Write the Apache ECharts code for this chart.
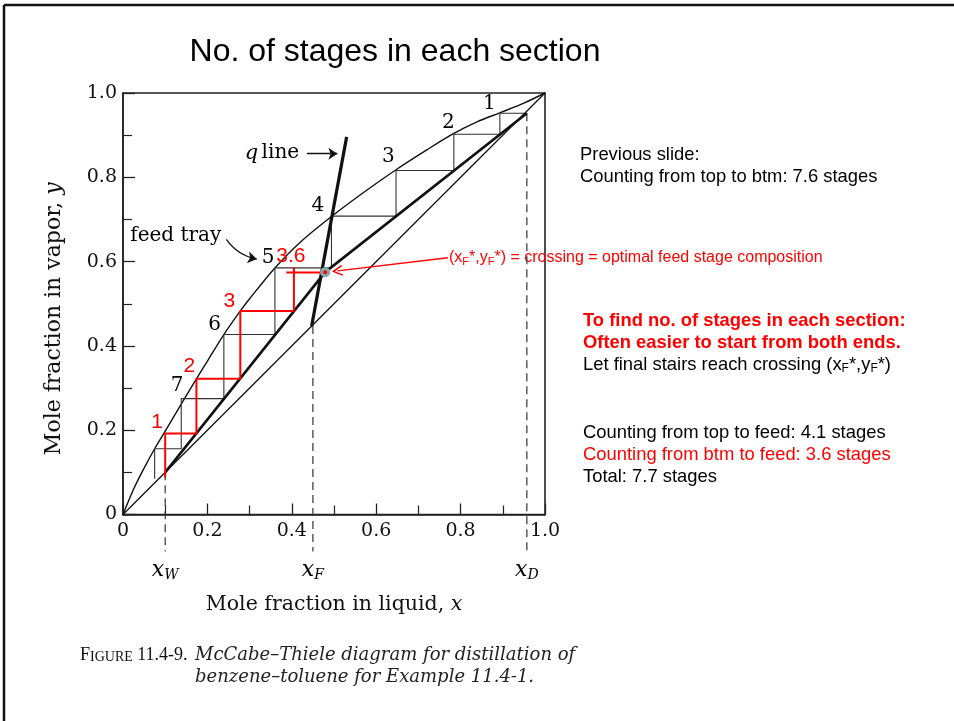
<!DOCTYPE html>
<html><head><meta charset="utf-8">
<script src="https://cdn.jsdelivr.net/npm/echarts@6/dist/echarts.min.js"></script>
<style>html,body{margin:0;padding:0;background:#fff;}#chart{width:954px;height:721px;}</style>
</head><body><div id="chart"></div>
<script>
// ---------- data ----------
const xTickLabels = ['0', '0.2', '0.4', '0.6', '0.8', '1.0'];
const yTickLabels = ['0', '0.2', '0.4', '0.6', '0.8', '1.0'];

// equilibrium curve
const eqX = [0, 0.025, 0.05, 0.075, 0.1, 0.138, 0.174, 0.2, 0.239, 0.278, 0.3, 0.36, 0.42, 0.494, 0.57, 0.647, 0.72, 0.784, 0.84, 0.893, 0.95, 1.0];
const eqY = [0, 0.06, 0.110, 0.156, 0.198, 0.262, 0.322, 0.364, 0.427, 0.483, 0.512, 0.585, 0.646, 0.707, 0.764, 0.818, 0.865, 0.904, 0.932, 0.953, 0.976, 1.0];

// 45-degree line
const diagX = [0, 1];
const diagY = [0, 1];

// operating lines (xD -> crossing -> xW)
const opX = [0.957, 0.479, 0.1];
const opY = [0.952, 0.575, 0.1];

// q line
const qX = [0.447, 0.530];
const qY = [0.447, 0.896];

// black stairs (counting from top)
const stairX = [0.957, 0.893, 0.893, 0.784, 0.784, 0.647, 0.647, 0.494, 0.494, 0.36, 0.36, 0.239, 0.239, 0.138, 0.138, 0.075, 0.075];
const stairY = [0.952, 0.952, 0.902, 0.902, 0.816, 0.816, 0.708, 0.708, 0.585, 0.585, 0.427, 0.427, 0.275, 0.275, 0.156, 0.156, 0.085];

// red stairs (counting from bottom)
const redStairX = [0.1, 0.1, 0.174, 0.174, 0.278, 0.278, 0.405, 0.405];
const redStairY = [0.088, 0.192, 0.192, 0.322, 0.322, 0.483, 0.483, 0.587];
const redBarX = [0.387, 0.476];
const redBarY = [0.574, 0.574];

// crossing point (xF*, yF*)
const crossX = [0.479];
const crossY = [0.575];

// compositions marked with dashed lines
const compNames = ['W', 'F', 'D'];
const compX = [0.1, 0.45, 0.957];
const compTopY = [0.1, 0.447, 0.952];
const compBottomY = [-0.088, -0.088, -0.088];

// stage numbers of the book figure
const stageText = ['1', '2', '3', '4', '5', '6', '7'];
const stageX = [0.868, 0.771, 0.629, 0.462, 0.344, 0.217, 0.128];
const stageY = [0.974, 0.930, 0.848, 0.732, 0.610, 0.450, 0.305];

// red stage counts
const redText = ['1', '2', '3', '3.6'];
const redX = [0.081, 0.157, 0.252, 0.398];
const redY = [0.220, 0.352, 0.505, 0.612];

// ---------- chart ----------
const zip = (a, b) => a.map((v, i) => [v, b[i]]);
const serif = 'DejaVu Serif';
const sans = 'Liberation Sans';
const ink = '#111';

const chart = echarts.init(document.getElementById('chart'), null, {renderer: 'canvas'});

const labelSeries = (data, label) => ({type: 'scatter', clip: false, silent: true, z: 9, symbol: 'circle', symbolSize: 0,
  itemStyle: {color: ink, opacity: 1}, data: data,
  label: Object.assign({show: true, position: 'inside', textBorderWidth: 0, opacity: 1}, label)});

const series = [];
series.push({type: 'line', data: zip(diagX, diagY), showSymbol: false, symbol: 'none', lineStyle: {color: ink, width: 1.3}, silent: true, z: 2});
series.push({type: 'line', data: zip(eqX, eqY), smooth: 0.3, showSymbol: false, symbol: 'none', lineStyle: {color: ink, width: 1.4}, silent: true, z: 2});
series.push({type: 'line', data: zip(stairX, stairY), showSymbol: false, symbol: 'none', lineStyle: {color: '#333', width: 1.1}, silent: true, z: 3});
series.push({type: 'line', data: zip(opX, opY), showSymbol: false, symbol: 'none', lineStyle: {color: ink, width: 2.6}, silent: true, z: 4});
series.push({type: 'line', data: zip(qX, qY), showSymbol: false, symbol: 'none', lineStyle: {color: ink, width: 3.2}, silent: true, z: 4});
compX.forEach((x, i) => {
  series.push({type: 'line', clip: false, data: [[x, compTopY[i]], [x, compBottomY[i]]], showSymbol: false, symbol: 'none',
    lineStyle: {color: '#333', width: 1.2, type: [8, 5]}, silent: true, z: 2});
});
series.push({type: 'line', data: zip(redStairX, redStairY), showSymbol: false, symbol: 'none', lineStyle: {color: '#ff0000', width: 2}, silent: true, z: 6});
series.push({type: 'line', data: zip(redBarX, redBarY), showSymbol: false, symbol: 'none', lineStyle: {color: '#ff0000', width: 2}, silent: true, z: 6});
series.push({type: 'scatter', data: zip(crossX, crossY), symbol: 'circle', symbolSize: 10, itemStyle: {color: '#86a9ad', opacity: 1}, silent: true, z: 7});
series.push({type: 'scatter', data: zip(crossX, crossY), symbol: 'circle', symbolSize: 4, itemStyle: {color: '#ff0000', opacity: 1}, silent: true, z: 8});

// stage number labels
series.push(labelSeries(stageText.map((t, i) => [stageX[i], stageY[i], t]),
  {formatter: p => p.data[2], fontFamily: serif, fontSize: 20, color: '#000'}));
series.push(labelSeries(redText.map((t, i) => [redX[i], redY[i], t]),
  {formatter: p => p.data[2], fontFamily: sans, fontSize: 21, color: '#ff0000'}));
// composition labels x_W, x_F, x_D
series.push(labelSeries(compNames.map((n, i) => [compX[i], -0.132, n]),
  {formatter: p => '{x|x}{s|' + p.data[2] + '}',
   rich: {x: {fontFamily: serif, fontStyle: 'italic', fontSize: 22, color: '#000', lineHeight: 24},
          s: {fontFamily: serif, fontStyle: 'italic', fontSize: 14, color: '#000', verticalAlign: 'bottom', lineHeight: 14}}}));
// q line and feed tray text
series.push(labelSeries([[0.353, 0.857, '{i|q} {n|line}'], [0.125, 0.661, '{n|feed tray}']],
  {formatter: p => p.data[2],
   rich: {i: {fontFamily: serif, fontStyle: 'italic', fontSize: 21, color: '#000'}, n: {fontFamily: serif, fontSize: 20, color: '#000'}}}));
// arrows
series.push({type: 'lines', coordinateSystem: 'cartesian2d', silent: true, z: 9, symbol: ['none', 'arrow'], symbolSize: 9,
  lineStyle: {color: ink, width: 1.3, curveness: 0, opacity: 1},
  data: [{coords: [[0.436, 0.856], [0.508, 0.856]]}]});
series.push({type: 'lines', coordinateSystem: 'cartesian2d', silent: true, z: 9, symbol: ['none', 'arrow'], symbolSize: 9,
  lineStyle: {color: ink, width: 1.3, curveness: -0.2, opacity: 1},
  data: [{coords: [[0.245, 0.653], [0.317, 0.606]]}]});
series.push({type: 'lines', coordinateSystem: 'cartesian2d', silent: true, z: 9,
  symbol: ['none', 'path://M5,0 L10,9 L8.8,10 L5,2.6 L1.2,10 L0,9 Z'], symbolSize: [11, 11],
  lineStyle: {color: '#ff0000', width: 1.4, curveness: 0, opacity: 1},
  data: [{coords: [[0.770, 0.609], [0.508, 0.578]]}]});

const sub = {fontSize: 12, verticalAlign: 'bottom', lineHeight: 13};
function txt(x, y, text, font, fill, rich) {
  return {type: 'text', x: x, y: y, silent: true,
    style: {text: text, font: font, fill: fill, textAlign: 'left', textVerticalAlign: 'middle', rich: rich || undefined}};
}
const f18 = '18.4px "Liberation Sans"';
const b18 = 'bold 18.4px "Liberation Sans"';

const graphic = [
  {type: 'line', silent: true, shape: {x1: 4, y1: 5, x2: 954, y2: 5}, style: {stroke: '#111', lineWidth: 2.5}},
  {type: 'line', silent: true, shape: {x1: 4, y1: 5, x2: 4, y2: 721}, style: {stroke: '#111', lineWidth: 2.5}},
  {type: 'text', x: 395, y: 52, silent: true, style: {text: 'No. of stages in each section', font: '32px "Liberation Sans"', fill: '#000', textAlign: 'center', textVerticalAlign: 'middle'}},
  txt(580, 155, 'Previous slide:', f18, '#000'),
  txt(580, 177, 'Counting from top to btm: 7.6 stages', f18, '#000'),
  txt(449, 258, '{a|(x}{s|F}{a|*,y}{s|F}{a|*) = crossing = optimal feed stage composition}', '16px "Liberation Sans"', '#ff0000',
    {a: {fontFamily: sans, fontSize: 16, color: '#ff0000', lineHeight: 18}, s: Object.assign({fontFamily: sans, color: '#ff0000'}, sub, {fontSize: 11})}),
  txt(583, 321, 'To find no. of stages in each section:', b18, '#ff0000'),
  txt(583, 343, '{r|Often easier to start from both ends}{k|.}', b18, '#ff0000',
    {r: {fontFamily: sans, fontWeight: 'bold', fontSize: 18.4, color: '#ff0000'}, k: {fontFamily: sans, fontWeight: 'bold', fontSize: 18.4, color: '#000'}}),
  txt(583, 365, '{a|Let final stairs reach crossing (x}{s|F}{a|*,y}{s|F}{a|*)}', f18, '#000',
    {a: {fontFamily: sans, fontSize: 18.4, color: '#000', lineHeight: 20}, s: Object.assign({fontFamily: sans, color: '#000'}, sub)}),
  txt(583, 433, 'Counting from top to feed: 4.1 stages', f18, '#000'),
  txt(583, 455, 'Counting from btm to feed: 3.6 stages', f18, '#ff0000'),
  txt(583, 477, 'Total: 7.7 stages', f18, '#000'),
  txt(80, 655, '{b|F}{c|IGURE}{b| 11.4-9.}', '18px "Liberation Serif"', ink,
    {b: {fontFamily: 'Liberation Serif', fontSize: 18, color: '#222'}, c: {fontFamily: 'Liberation Serif', fontSize: 14, color: '#222', verticalAlign: 'bottom', lineHeight: 16}}),
  txt(195, 655, 'McCabe–Thiele diagram for distillation of', 'italic 18px "DejaVu Serif"', '#222'),
  txt(195, 677, 'benzene–toluene for Example 11.4-1.', 'italic 18px "DejaVu Serif"', '#222')
];

chart.setOption({
  animation: false,
  backgroundColor: '#fff',
  grid: {left: 123, top: 93, width: 422, height: 421.5, show: true, borderColor: '#222', borderWidth: 1.6, backgroundColor: 'rgba(0,0,0,0)'},
  xAxis: {type: 'value', min: 0, max: 1, interval: 0.2,
    axisLine: {show: true, onZero: false, lineStyle: {color: '#222', width: 1.6}},
    axisTick: {show: true, inside: true, length: 11, lineStyle: {color: '#222', width: 1.3}},
    minorTick: {show: true, splitNumber: 2, length: 9, lineStyle: {color: '#222', width: 1.2}},
    splitLine: {show: false},
    axisLabel: {formatter: v => xTickLabels[Math.round(v / 0.2)], fontFamily: serif, fontSize: 19, color: '#111', margin: 7},
    name: '{n|Mole fraction in liquid, }{i|x}', nameLocation: 'middle', nameGap: 80,
    nameTextStyle: {rich: {n: {fontFamily: serif, fontSize: 20.5, color: '#111'}, i: {fontFamily: serif, fontStyle: 'italic', fontSize: 20.5, color: '#111'}}}},
  yAxis: {type: 'value', min: 0, max: 1, interval: 0.2,
    axisLine: {show: true, onZero: false, lineStyle: {color: '#222', width: 1.6}},
    axisTick: {show: true, inside: true, length: 12, lineStyle: {color: '#222', width: 1.3}},
    minorTick: {show: true, splitNumber: 2, length: 9, lineStyle: {color: '#222', width: 1.2}},
    splitLine: {show: false},
    axisLabel: {formatter: v => yTickLabels[Math.round(v / 0.2)], fontFamily: serif, fontSize: 19, color: '#111', margin: 6},
    name: '{n|Mole fraction in vapor, }{i|y}', nameLocation: 'middle', nameGap: 58, nameRotate: 90,
    nameTextStyle: {padding: [0, 30, 0, 0], rich: {n: {fontFamily: serif, fontSize: 22, color: '#111'}, i: {fontFamily: serif, fontStyle: 'italic', fontSize: 22, color: '#111'}}}},
  series: series,
  graphic: graphic
});
</script></body></html>
